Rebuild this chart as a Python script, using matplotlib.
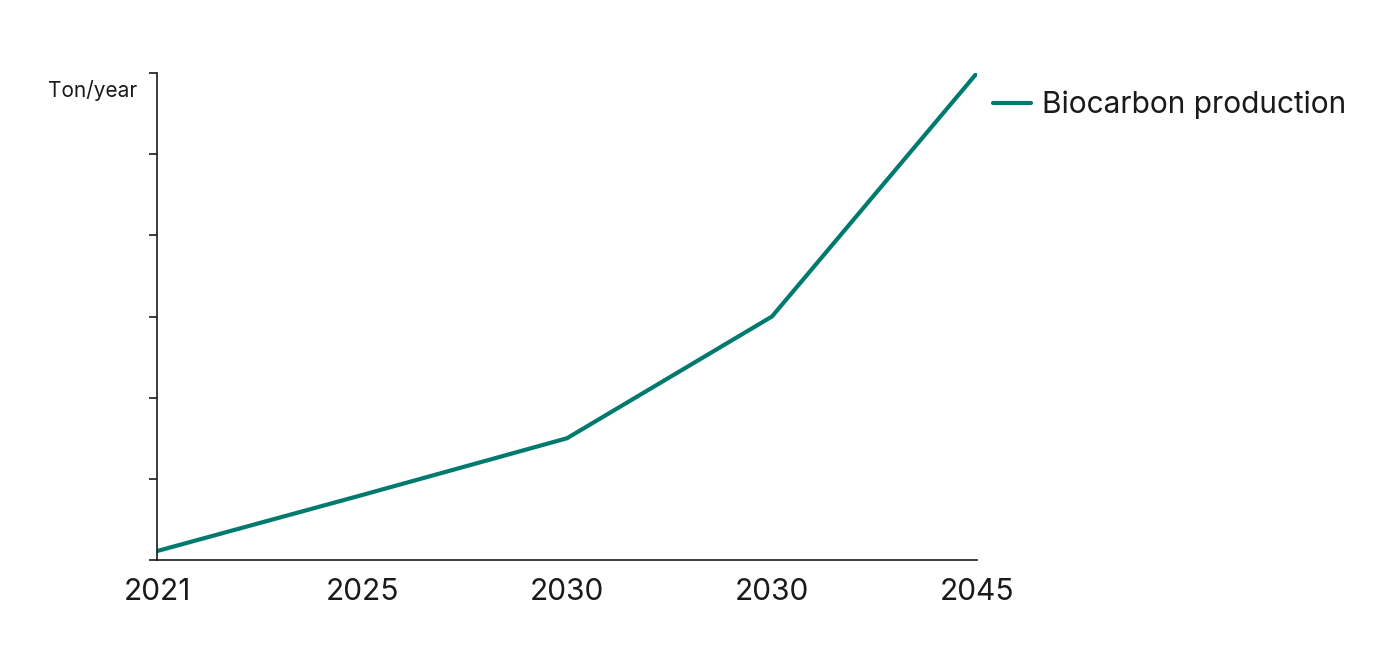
import matplotlib
matplotlib.use('Agg')
from matplotlib import pyplot as plt

# Biocarbon production outlook (no y values shown on the original)
years = ['2021', '2025', '2030', '2030', '2045']
production = [0.11, 0.8, 1.5, 3.0, 6.0]

plt.rcParams['font.family'] = ['Inter', 'DejaVu Sans']

fig = plt.figure(figsize=(13.78, 6.68), dpi=100)
ax = fig.add_axes([157/1378, 1 - 560/668, 820/1378, 487/668])

x = list(range(len(years)))
ax.plot(x, production, color='#007a6e', linewidth=3, label='Biocarbon production',
        solid_capstyle='round')

ax.set_xlim(0, len(years) - 1)
ax.set_ylim(0, 6)
ax.set_xticks(x)
ax.set_xticklabels(years, fontsize=21.5, color='#1a1a1a')
ax.set_yticks(range(7))
ax.set_yticklabels([])
ax.tick_params(axis='x', length=0, pad=13)
ax.tick_params(axis='y', length=6, width=1.2, color='#1a1a1a', direction='out')

for side in ['top', 'right']:
    ax.spines[side].set_visible(False)
for side in ['left', 'bottom']:
    ax.spines[side].set_color('#1a1a1a')
    ax.spines[side].set_linewidth(1.2)

ax.text(-0.0244, 0.965, 'Ton/year', transform=ax.transAxes, ha='right', va='center',
        fontsize=15, color='#1a1a1a')

leg = ax.legend(loc='center left', bbox_to_anchor=(1.0195, 0.934), frameon=False,
                fontsize=21.5, handlelength=1.28, handletextpad=0.36,
                borderaxespad=0, borderpad=0)
for t in leg.get_texts():
    t.set_color('#1a1a1a')

fig.savefig('out.png', dpi=100)
